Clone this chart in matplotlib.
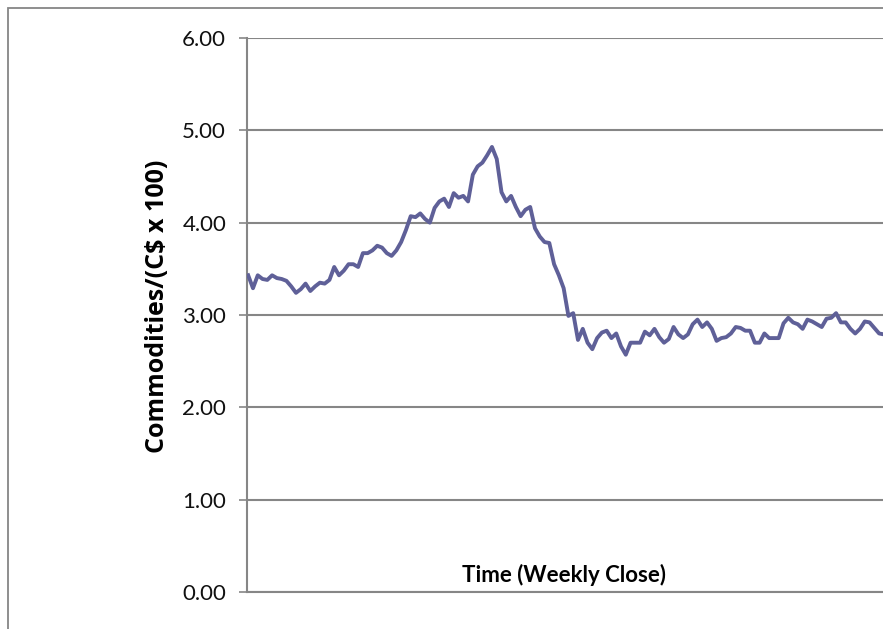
import matplotlib
matplotlib.use("Agg")
import matplotlib.pyplot as plt
from matplotlib.patches import Rectangle

# Weekly close values (Commodities / (C$ x 100))
seg_rise = [3.43, 3.29, 3.43, 3.39, 3.38, 3.43, 3.40, 3.39, 3.37, 3.31, 3.24, 3.28,
            3.34, 3.26, 3.31, 3.35, 3.34, 3.38, 3.52, 3.43, 3.48, 3.55, 3.55, 3.52,
            3.67, 3.67, 3.70, 3.75, 3.73, 3.67, 3.64, 3.70, 3.79, 3.92, 4.07, 4.06,
            4.10, 4.04, 4.00, 4.16, 4.23, 4.26, 4.17, 4.32, 4.27, 4.29, 4.23]
seg_peak_fall = [4.52, 4.61, 4.65, 4.73, 4.82, 4.69, 4.33, 4.23, 4.29, 4.17, 4.07,
                 4.14, 4.17, 3.94, 3.85, 3.79, 3.78, 3.55, 3.43, 3.29, 2.99, 3.02,
                 2.73, 2.85, 2.70, 2.63, 2.75]
seg_flat = [2.81, 2.83, 2.75, 2.80, 2.66, 2.57, 2.70, 2.70, 2.70, 2.82, 2.78, 2.85,
            2.76, 2.70, 2.74, 2.87, 2.79, 2.75, 2.79, 2.90, 2.95, 2.87, 2.92, 2.85,
            2.72, 2.75, 2.76, 2.80, 2.87, 2.86, 2.83, 2.83, 2.70, 2.70, 2.80, 2.75,
            2.75, 2.75, 2.91, 2.97, 2.92, 2.90, 2.85, 2.95, 2.93, 2.90, 2.87, 2.96,
            2.97, 3.02, 2.92, 2.92, 2.85, 2.80, 2.85, 2.93, 2.92, 2.86, 2.80, 2.79]
values = seg_rise + seg_peak_fall + seg_flat
weeks = list(range(len(values)))

y_ticks = [0, 1, 2, 3, 4, 5, 6]
y_tick_labels = ["0.00", "1.00", "2.00", "3.00", "4.00", "5.00", "6.00"]
x_label = "Time (Weekly Close)"
y_label = "Commodities/(C$ x 100)"

W, H = 883, 629
fig = plt.figure(figsize=(W / 100, H / 100), dpi=100)
plt.rcParams['font.family'] = ['Lato', 'DejaVu Sans']

grey = '#868686'
line_color = '#5F6098'

# outer chart border (clipped at right/bottom)
fig.patches.append(Rectangle((8 / W, -0.1), 1.2, 1 - 8 / H + 0.1,
                             transform=fig.transFigure, fill=False,
                             edgecolor=grey, linewidth=1.3))

left = 247 / W
bottom = 1 - 592 / H
top = 1 - 38 / H
ax = fig.add_axes([left, bottom, 1.0 - left + 0.001, top - bottom])

ax.plot(weeks, values, color=line_color, linewidth=2.8, solid_joinstyle='round',
        zorder=3)

ax.set_ylim(0, 6)
ax.set_xlim(-0.25, len(values) - 1)
ax.set_yticks(y_ticks)
ax.set_yticklabels(y_tick_labels)
ax.set_xticks([])

ax.yaxis.grid(True, color=grey, linewidth=1.5)
ax.set_axisbelow(True)
for s in ['top', 'right']:
    ax.spines[s].set_visible(False)
for s in ['left', 'bottom']:
    ax.spines[s].set_color(grey)
    ax.spines[s].set_linewidth(1.5)

ax.tick_params(axis='y', length=6, width=1.2, color=grey, pad=9,
               labelsize=16, labelcolor='#111111')

ax.text(0.497, 0.031, x_label, transform=ax.transAxes, ha='center', va='center',
        fontsize=16, fontweight='bold', color='black')
fig.text(158 / W, 1 - 306 / H, y_label, rotation=90, ha='center', va='center',
         fontsize=18, fontweight='bold', color='black',
         family=['Open Sans', 'DejaVu Sans'])

fig.savefig("out.png", dpi=100)
